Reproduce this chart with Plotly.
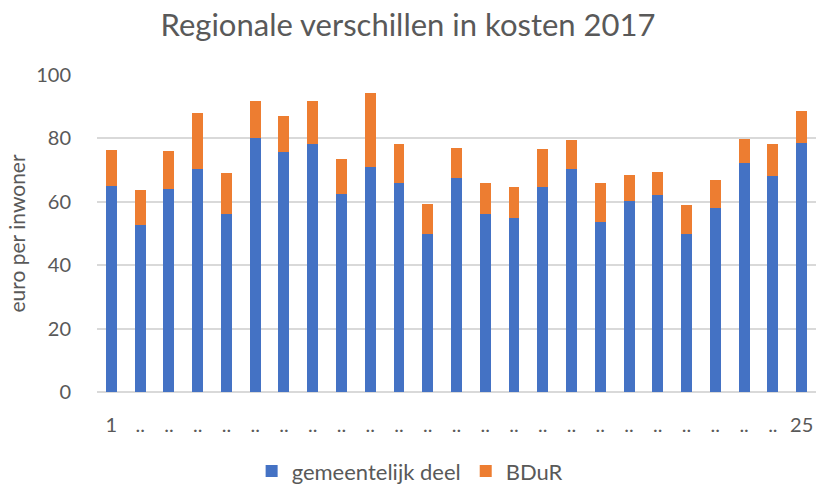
import plotly.graph_objects as go

regions = list(range(1, 26))
tick_labels = ["1"] + [".."] * 23 + ["25"]
gemeentelijk = [65.1, 52.8, 64.1, 70.2, 56.1, 80.0, 75.6, 78.1, 62.6, 70.9, 65.9, 49.7,
                67.4, 56.1, 55.0, 64.8, 70.2, 53.6, 60.1, 62.2, 50.0, 57.9, 72.3, 68.0, 78.5]
totaal = [76.4, 63.7, 76.0, 87.9, 69.0, 91.9, 87.2, 91.9, 73.5, 94.4, 78.1, 59.4,
          77.0, 65.9, 64.7, 76.7, 79.6, 65.9, 68.3, 69.4, 58.9, 66.9, 79.9, 78.1, 88.6]
bdur = [round(t - g, 1) for t, g in zip(totaal, gemeentelijk)]

FONT = "Lato"
GREY = "#595959"

fig = go.Figure()
fig.add_trace(go.Bar(x=regions, y=gemeentelijk, name="gemeentelijk deel",
                     marker=dict(color="#4472C4", line=dict(width=0))))
fig.add_trace(go.Bar(x=regions, y=bdur, name="BDuR",
                     marker=dict(color="#ED7D31", line=dict(width=0))))

fig.update_layout(
    barmode="stack",
    bargap=0.62,
    width=816, height=484,
    margin=dict(l=97, r=0, t=75, b=92, autoexpand=False),
    paper_bgcolor="white", plot_bgcolor="white",
    font=dict(family=FONT, color=GREY, size=20),
    title=dict(text="Regionale verschillen in kosten 2017", x=0.5, xref="container",
               xanchor="center", y=0.948, yref="container", yanchor="middle",
               font=dict(size=31, color=GREY, family=FONT)),
    legend=dict(orientation="h", x=0.502, xref="container", xanchor="center",
                y=-0.25, yanchor="middle",
                font=dict(size=22, color=GREY), traceorder="normal"),
    showlegend=True,
)
fig.update_xaxes(tickmode="array", tickvals=regions, ticktext=tick_labels,
                 range=[0.5, 25.5], showgrid=False, zeroline=False, showline=False,
                 ticks="outside", ticklen=15, tickcolor="rgba(0,0,0,0)",
                 tickfont=dict(size=20, color=GREY), automargin=False)
fig.update_yaxes(range=[0, 100], dtick=20, showgrid=True, gridcolor="#D9D9D9", gridwidth=1.5,
                 zeroline=True, zerolinecolor="#D9D9D9", zerolinewidth=1.5, showline=False,
                 ticks="outside", ticklen=21, tickcolor="rgba(0,0,0,0)",
                 title=dict(text="euro per inwoner", font=dict(size=21, color=GREY), standoff=4),
                 tickfont=dict(size=20, color=GREY), automargin=False)

fig.write_html("out.html", config={"displayModeBar": False},
               post_script="document.body.style.margin='0px';document.body.style.overflow='hidden';")
